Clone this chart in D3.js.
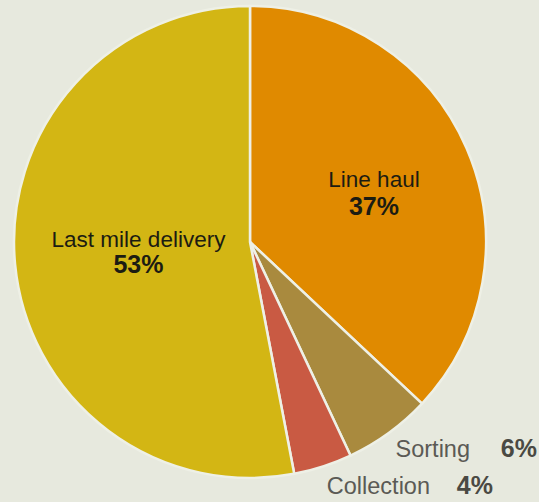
<!DOCTYPE html>
<html><head><meta charset="utf-8">
<script src="https://cdn.jsdelivr.net/npm/d3@7"></script>
<style>html,body{margin:0;padding:0;background:#e7e9de;}svg{display:block;font-family:"Liberation Sans",Arial,Helvetica,sans-serif;}</style>
</head><body>
<script>
const categories = ["Line haul", "Sorting", "Collection", "Last mile delivery"];
const values = [37, 6, 4, 53];
const labels = ["37%", "6%", "4%", "53%"];
const colors = ["#e08a00", "#a98a3e", "#c95a43", "#d3b614"];

const W = 539, H = 502;
const cx = 250, cy = 242, R = 236;
const svg = d3.select("body").append("svg").attr("width", W).attr("height", H);
svg.append("rect").attr("width", W).attr("height", H).attr("fill", "#e7e9de");

const pie = d3.pie().sort(null).value(d => d)(values);
const arc = d3.arc().innerRadius(0).outerRadius(R);
const g = svg.append("g").attr("transform", `translate(${cx},${cy})`);
g.selectAll("path").data(pie).join("path")
  .attr("d", arc)
  .attr("fill", (d, i) => colors[i])
  .attr("stroke", "#eef0e6").attr("stroke-width", 2.5).attr("stroke-linejoin", "round");

// inside labels
const inside = [
  {i: 0, x: 374, y: 187, dy: 28},
  {i: 3, x: 138.5, y: 247, dy: 26}
];
inside.forEach(o => {
  const t = svg.append("text").attr("text-anchor", "middle").attr("fill", "#1c1c12");
  t.append("tspan").attr("x", o.x).attr("y", o.y).attr("font-size", 22.5).text(categories[o.i]);
  t.append("tspan").attr("x", o.x).attr("y", o.y + o.dy).attr("font-size", 25).attr("font-weight", "bold").text(labels[o.i]);
});

// outside labels
const outside = [
  {i: 1, x: 470, y: 457, px: 537},
  {i: 2, x: 430, y: 494, px: 493}
];
outside.forEach(o => {
  svg.append("text").attr("x", o.x).attr("y", o.y).attr("text-anchor", "end")
    .attr("font-size", 23.5).attr("fill", "#5b5a55").text(categories[o.i]);
  svg.append("text").attr("x", o.px).attr("y", o.y).attr("text-anchor", "end")
    .attr("font-size", 25).attr("font-weight", "bold").attr("fill", "#4a4943").text(labels[o.i]);
});
</script>
</body></html>
